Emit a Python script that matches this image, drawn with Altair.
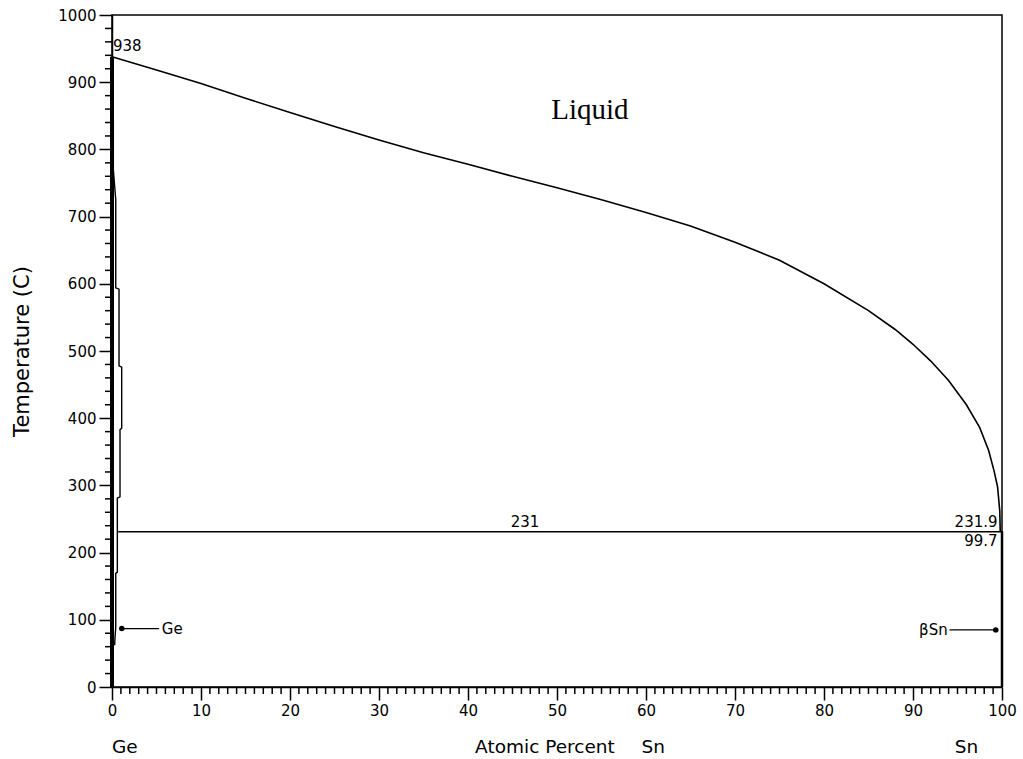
import altair as alt
import pandas as pd

# ---- data ----
liq_x = [0, 5, 10, 15, 20, 25, 30, 35, 40, 45, 50, 55, 60, 65, 70, 75, 80, 85, 88, 90,
         92, 94, 96, 97.5, 98.5, 99.1, 99.5, 99.75, 99.8]
liq_t = [938, 918, 898, 876, 855, 834, 814, 795, 778, 760, 743, 725, 706, 686, 662, 635,
         600, 560, 532, 510, 485, 456, 420, 386, 352, 322, 298, 262, 232]

solv_x = [0.15, 0.15, 0.42, 0.42, 0.79, 0.79, 1.09, 1.09, 0.9, 0.9, 0.6, 0.6, 0.42, 0.42, 0.34, 0.3]
solv_t = [841, 770, 725, 594, 592, 478, 476, 385, 383, 283, 281, 171, 169, 89, 74, 62]

ge_line_x = [0, 0]
ge_line_t = [0, 938]
sn_line_x = [100, 100]
sn_line_t = [0, 231.9]

eut_x = [0.7, 100]
eut_t = [231, 231]

ge_mark_x = [1.1, 5.3]
ge_mark_t = [87, 87]
sn_mark_x = [94.1, 99.3]
sn_mark_t = [85, 85]

x_major = list(range(0, 101, 10))
x_minor = [v for v in range(0, 101) if v % 10 != 0]
y_major = list(range(0, 1001, 100))
y_minor = [v for v in range(0, 1001, 20) if v % 100 != 0]

labels = pd.DataFrame({
    "x": [0, 46.4, 99.5, 99.5, 53.7],
    "t": [942, 231, 231, 231, 858],
    "txt": ["938", "231", "231.9", "99.7", "Liquid"],
})

W, H = 890, 672
FONT = "DejaVu Sans"

xs = alt.Scale(domain=[0, 100], nice=False, zero=False)
ys = alt.Scale(domain=[0, 1000], nice=False, zero=False)

xax = alt.Axis(values=x_major, tickSize=13, labelPadding=3, labelFontSize=15, labelFont=FONT,
               labelColor="black", tickColor="black", domainColor="black", domainWidth=1.5,
               tickWidth=1.5, grid=False, title=None, labelFlush=False, format="d")
yax = alt.Axis(values=y_major, tickSize=13, labelPadding=3, labelFontSize=15, labelFont=FONT,
               labelColor="black", tickColor="black", domainColor="black", domainWidth=1.5,
               tickWidth=1.5, grid=False, title="Temperature (C)", titleFont=FONT,
               titleFontSize=21, titleFontWeight="normal", titleColor="black",
               titleX=-90, titleY=H / 2, titleAngle=270, titleAlign="center",
               titleBaseline="middle", labelFlush=False, format="d")


def line_df(xv, tv):
    return pd.DataFrame({"x": xv, "t": tv, "o": list(range(len(xv)))})


def path(xv, tv, width=1.5):
    return alt.Chart(line_df(xv, tv)).mark_line(color="black", strokeWidth=width).encode(
        x=alt.X("x:Q", scale=xs, axis=xax),
        y=alt.Y("t:Q", scale=ys, axis=yax),
        order="o:Q",
    )


liquidus = path(liq_x, liq_t, 1.6)
solvus = path(solv_x, solv_t, 1.4)
ge_line = path(ge_line_x, ge_line_t, 4)
sn_line = path(sn_line_x, sn_line_t, 2.5)
eut = path(eut_x, eut_t, 1.5)
ge_m = path(ge_mark_x, ge_mark_t, 1.2)
sn_m = path(sn_mark_x, sn_mark_t, 1.2)

dots = alt.Chart(pd.DataFrame({"x": [ge_mark_x[0], sn_mark_x[1]], "t": [ge_mark_t[0], sn_mark_t[1]]})).mark_point(
    filled=True, color="black", size=30, opacity=1).encode(x=alt.X("x:Q", scale=xs), y=alt.Y("t:Q", scale=ys))

xminor = alt.Chart(pd.DataFrame({"v": x_minor})).mark_rule(color="black", strokeWidth=1.5).encode(
    x=alt.X("v:Q", scale=xs), y=alt.value(H), y2=alt.value(H + 7))
yminor = alt.Chart(pd.DataFrame({"v": y_minor})).mark_rule(color="black", strokeWidth=1.5).encode(
    y=alt.Y("v:Q", scale=ys), x=alt.value(-7), x2=alt.value(0))


def txt(i, **kw):
    d = labels.iloc[[i]]
    return alt.Chart(d).mark_text(color="black", **kw).encode(
        x=alt.X("x:Q", scale=xs), y=alt.Y("t:Q", scale=ys), text="txt:N")


t938 = txt(0, align="left", baseline="bottom", dx=1, font=FONT, fontSize=15)
t231 = txt(1, align="center", baseline="bottom", dy=-2, font=FONT, fontSize=15)
t2319 = txt(2, align="right", baseline="bottom", dy=-2, font=FONT, fontSize=15)
t997 = txt(3, align="right", baseline="top", dy=2, font=FONT, fontSize=15)
tliq = txt(4, align="center", baseline="middle", font="Liberation Serif", fontSize=29)

mark_labels = pd.DataFrame({"x": [5.6, 93.9], "t": [87, 85], "txt": ["Ge", "βSn"]})
tge = alt.Chart(mark_labels.iloc[[0]]).mark_text(align="left", baseline="middle", font=FONT,
                                                 fontSize=15, color="black").encode(
    x=alt.X("x:Q", scale=xs), y=alt.Y("t:Q", scale=ys), text="txt:N")
tbsn = alt.Chart(mark_labels.iloc[[1]]).mark_text(align="right", baseline="middle", font=FONT,
                                                  fontSize=15, color="black").encode(
    x=alt.X("x:Q", scale=xs), y=alt.Y("t:Q", scale=ys), text="txt:N")

bottom = pd.DataFrame({"x": [0, 40.8, 59.5, 94.7], "txt": ["Ge", "Atomic Percent", "Sn", "Sn"]})
tbottom = alt.Chart(bottom).mark_text(align="left", baseline="middle", font=FONT, fontSize=18.5,
                                      color="black").encode(
    x=alt.X("x:Q", scale=xs), y=alt.value(H + 60), text="txt:N")

chart = alt.layer(
    liquidus, solvus, ge_line, sn_line, eut, ge_m, sn_m, dots, xminor, yminor,
    t938, t231, t2319, t997, tliq, tge, tbsn, tbottom,
).properties(
    width=W, height=H,
    autosize=alt.AutoSizeParams(type="none"),
    padding={"left": 112, "top": 15, "right": 21, "bottom": 72},
    background="white",
).configure_view(stroke="black", strokeWidth=1.5)

chart.save("out.html", embed_options={"renderer": "svg", "actions": False})
